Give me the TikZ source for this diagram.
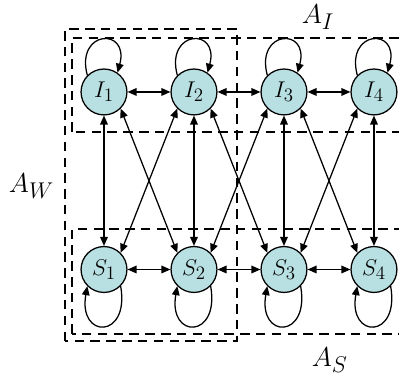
\documentclass[tikz,border=0pt]{standalone}
\usetikzlibrary{arrows.meta}
\DeclareMathSizes{14.5}{14.5}{12}{9}
\DeclareMathSizes{17}{17}{13.5}{10}
\definecolor{cteal}{HTML}{B8E0E2}
\tikzset{
  state/.style={circle, draw, fill=cteal, line width=0.8pt, minimum size=1.02cm, inner sep=0pt, font=\fontsize{14.5}{17}\selectfont},
  arr/.style={{Triangle[length=2mm,width=1.7mm]}-{Triangle[length=2mm,width=1.7mm]}, line width=0.8pt},
  loopto/.style={-{Triangle[length=2mm,width=1.7mm]}, line width=0.8pt},
  region/.style={dash pattern=on 6pt off 4pt, line width=1.3pt},
  setlabel/.style={font=\fontsize{17}{20}\selectfont},
}
\begin{document}
\begin{tikzpicture}
  \clip (0,0) rectangle (8.867,8.4);
  % dashed sets
  \draw[region] (1.444,0.822) rectangle (5.267,7.756);
  \draw[region] (1.6,5.467) rectangle (9.5,7.556);
  \draw[region] (1.6,0.978) rectangle (9.5,3.311);
  \node[setlabel] (AI) at (7.07,8.02) {$A_I$};
  \node[setlabel] (AW) at (0.7,4.26) {$A_W$};
  \node[setlabel] (AS) at (7.33,0.4) {$A_S$};
  % states
  \foreach \i/\x in {1/2.311, 2/4.311, 3/6.311, 4/8.311} {
    \node[state] (I\i) at (\x,6.356) {$I_\i$};
    \node[state] (S\i) at (\x,2.411) {$S_\i$};
  }
  \foreach \i in {1,...,4} {
    \draw[arr] (I\i.south) -- (S\i.north);
    \draw[loopto] (I\i.135) .. controls +(105:1.05) and +(75:1.05) .. (I\i.55);
    \draw[loopto] (S\i.-45) .. controls +(-80:1.2) and +(-100:1.2) .. (S\i.-135);
  }
  \foreach \i/\j in {1/2, 2/3, 3/4} {
    \draw[arr] (I\i) -- (I\j);
    \draw[arr] (S\i) -- (S\j);
    \draw[arr] (I\i.-45) -- (S\j.135);
    \draw[arr] (I\j.-135) -- (S\i.45);
  }
\end{tikzpicture}
\end{document}
